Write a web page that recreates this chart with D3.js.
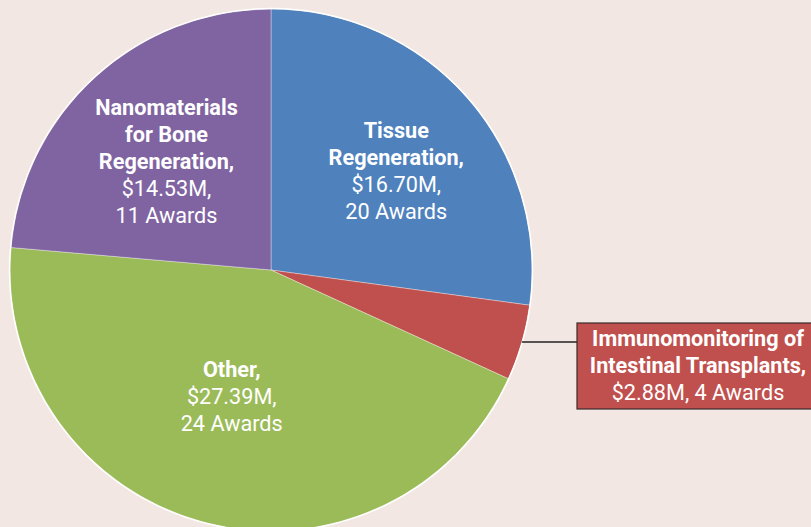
<!DOCTYPE html>
<html>
<head>
<meta charset="utf-8">
<script src="https://cdn.jsdelivr.net/npm/d3@7"></script>
<style>
  html, body { margin: 0; padding: 0; background: #F2E7E2; }
  svg { display: block; }
  text { font-family: Roboto, "DejaVu Sans", sans-serif; }
</style>
</head>
<body>
<svg id="chart" width="811" height="527"></svg>
<script>
// Award portfolio by topic (funding in $M, number of awards)
const categories = ["Tissue Regeneration", "Immunomonitoring of Intestinal Transplants", "Other", "Nanomaterials for Bone Regeneration"];
const funding = [16.70, 2.88, 27.39, 14.53];
const awards = [20, 4, 24, 11];
const colors = ["#4F81BD", "#C0504D", "#9BBB59", "#8064A2"];

// Label lines: bold name lines, then regular value lines
const nameLines = [["Tissue", "Regeneration,"], ["Immunomonitoring of", "Intestinal Transplants,"], ["Other,"], ["Nanomaterials", "for Bone", "Regeneration,"]];

const W = 811, H = 527;
const cx = 271, cy = 270, R = 261;

const svg = d3.select("#chart");
svg.append("rect").attr("width", W).attr("height", H).attr("fill", "#F2E7E2");

const data = categories.map((c, i) => ({ name: c, value: funding[i], awards: awards[i], color: colors[i], lines: nameLines[i] }));

const pie = d3.pie().value(d => d.value).sort(null);
const arc = d3.arc().innerRadius(0).outerRadius(R);
const arcs = pie(data);

const g = svg.append("g").attr("transform", `translate(${cx},${cy})`);

g.selectAll("path.slice").data(arcs).join("path")
  .attr("class", "slice")
  .attr("d", arc)
  .attr("fill", d => d.data.color)
  .attr("stroke", "rgba(255,255,255,0.35)")
  .attr("stroke-width", 1);

// white rim round the pie
g.append("circle").attr("r", R + 0.5).attr("fill", "none").attr("stroke", "#ffffff").attr("stroke-width", 1.5);

const fs = 22, lh = 27;

// Condensed look: measure a reference line and squeeze text horizontally
const probe = svg.append("text").attr("font-size", fs).attr("font-weight", "bold").text("Immunomonitoring of");
const probeW = probe.node().getComputedTextLength();
probe.remove();
const sx = 212 / probeW;

function label(parent, x, yTop, lines) {
  const grp = parent.append("g").attr("transform", `translate(${x},${yTop}) scale(${sx},1)`);
  const t = grp.append("text").attr("text-anchor", "middle").attr("fill", "#ffffff").attr("font-size", fs);
  lines.forEach((l, k) => {
    t.append("tspan")
      .attr("x", 0)
      .attr("y", k * lh)
      .attr("dy", "0.35em")
      .attr("font-weight", l.bold ? "bold" : "normal")
      .text(l.t);
  });
}

// In-slice labels: centroid at a chosen radius fraction plus a nudge
const labelRadius = [0.52, null, 0.47, 0.53];
const labelOffset = [[23, -10], null, [-8, 8], [-11, -7]];

arcs.forEach((a, i) => {
  if (labelRadius[i] === null) return;
  const mid = (a.startAngle + a.endAngle) / 2;
  const r = R * labelRadius[i];
  const x = Math.sin(mid) * r + labelOffset[i][0];
  const y = -Math.cos(mid) * r + labelOffset[i][1];
  const lines = a.data.lines.map(t => ({ t, bold: true }))
    .concat([{ t: "$" + a.data.value.toFixed(2) + "M,", bold: false }, { t: a.data.awards + " Awards", bold: false }]);
  label(g, x, y - (lines.length - 1) * lh / 2, lines);
});

// Callout for the small slice
const small = arcs[1];
const lineY = 342;
const lineX0 = cx + Math.sqrt(R * R - (lineY - cy) * (lineY - cy));
const boxX = 577, boxY = 323, boxW = 240, boxH = 86;

svg.append("line")
  .attr("x1", lineX0).attr("y1", lineY)
  .attr("x2", boxX).attr("y2", lineY)
  .attr("stroke", "#222222").attr("stroke-width", 1.5);

svg.append("rect")
  .attr("x", boxX).attr("y", boxY)
  .attr("width", boxW).attr("height", boxH)
  .attr("fill", colors[1])
  .attr("stroke", "#3a2a2a").attr("stroke-width", 1.2);

const calloutLines = small.data.lines.map(t => ({ t, bold: true }))
  .concat([{ t: "$" + small.data.value.toFixed(2) + "M, " + small.data.awards + " Awards", bold: false }]);
label(svg, 698, 338, calloutLines);
</script>
</body>
</html>
